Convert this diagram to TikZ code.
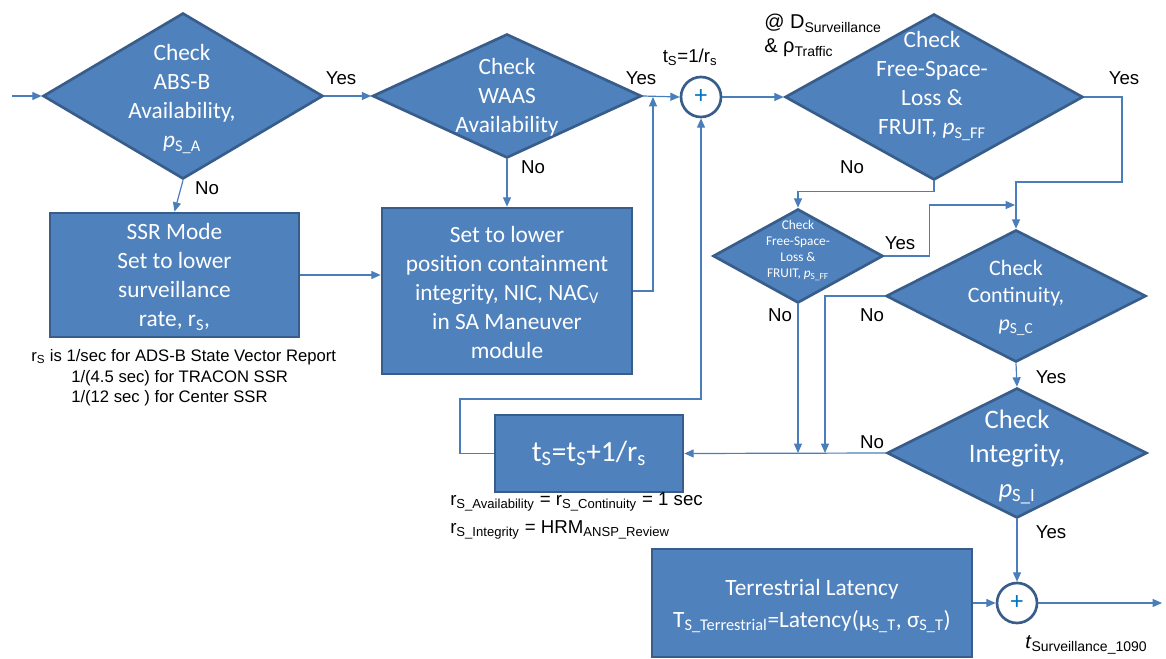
\documentclass[tikz,border=0pt]{standalone}
\usepackage{fontspec}
\setmainfont{Carlito}
\newfontfamily\arial{Liberation Sans}
\usetikzlibrary{shapes.geometric,arrows.meta}

\definecolor{boxfill}{HTML}{4F81BD}
\definecolor{boxline}{HTML}{385D8A}
\definecolor{wireblue}{HTML}{4A7EBB}
\definecolor{plusblue}{HTML}{0070C0}

\begin{document}
\begin{tikzpicture}[x=0.75pt,y=0.75pt,yscale=-1,xscale=1,
  dia/.style={diamond, draw=boxline, fill=boxfill, line width=2pt, inner sep=0pt},
  box/.style={rectangle, draw=boxline, fill=boxfill, line width=2pt, inner sep=0pt},
  wtext/.style={text=white, align=center, inner sep=0pt, font=\fontsize{17.5}{21.75}\selectfont},
  sumnode/.style={circle, draw=boxline, fill=white, line width=2pt, minimum size=30pt, inner sep=0pt, text=plusblue, font=\fontsize{19}{19}\selectfont},
  wire/.style={draw=wireblue, line width=0.9pt, -{Triangle[length=7pt,width=6pt]}},
  lbl/.style={inner sep=0pt, font=\arial\fontsize{14}{17}\selectfont}]
\useasboundingbox (0,0) rectangle (1166,659);

%Shape: Diamond [id:absb]
\node [dia, minimum width=210pt, minimum height=124.5pt] (absb) at (183,96) {};
\node [wtext] (absbtxt) at (182,99) {Check\\ABS-B\\Availability,\\\textit{p}\textsubscript{S\_A}};
%Shape: Diamond [id:waas]
\node [dia, minimum width=201.75pt, minimum height=93pt] (waas) at (507,96) {};
\node [wtext] (waastxt) at (507,97) {Check\\WAAS\\Availability};
%Shape: Diamond [id:fsl]
\node [dia, minimum width=223.5pt, minimum height=124.5pt] (fsl) at (934,97) {};
\node [wtext] (fsltxt) at (932,86) {Check\\Free-Space-\\Loss \&\\FRUIT, \textit{p}\textsubscript{S\_FF}};
%Shape: Diamond [id:fslsmall]
\node [dia, minimum width=127.5pt, minimum height=70.5pt] (fslsmall) at (798,256) {};
\node [wtext, font=\fontsize{10}{12}\selectfont] (fslsmalltxt) at (798,250) {Check\\Free-Space-\\Loss \&\\FRUIT, \textit{p}\textsubscript{S\_FF}};
%Shape: Diamond [id:cont]
\node [dia, minimum width=195pt, minimum height=99pt] (cont) at (1016,296) {};
\node [wtext, font=\fontsize{16.5}{20.5}\selectfont] (conttxt) at (1016,298) {Check\\Continuity,\\\textit{p}\textsubscript{S\_C}};
%Shape: Diamond [id:integ]
\node [dia, minimum width=195pt, minimum height=97.5pt] (integ) at (1017,453) {};
\node [wtext, font=\fontsize{20}{26}\selectfont] (integtxt) at (1017,457) {Check\\Integrity,\\\textit{p}\textsubscript{S\_I}};

%Shape: Rectangle [id:ssr]
\node [box, minimum width=186.75pt, minimum height=93pt] (ssr) at (174.5,275) {};
\node [wtext] (ssrtxt) at (174.5,277) {SSR Mode\\Set to lower\\surveillance\\rate, r\textsubscript{S},};
%Shape: Rectangle [id:nic]
\node [box, minimum width=187.5pt, minimum height=124.5pt] (nic) at (507,291) {};
\node [wtext] (nictxt) at (507,292) {Set to lower\\position containment\\integrity, NIC, NAC\textsubscript{V}\\in SA Maneuver\\module};
%Shape: Rectangle [id:tsbox]
\node [box, minimum width=141pt, minimum height=57.75pt] (tsbox) at (589,453.5) {};
\node [wtext, font=\fontsize{22}{26}\selectfont] (tsboxtxt) at (589,453) {t\textsubscript{S}=t\textsubscript{S}+1/r\textsubscript{s}};
%Shape: Rectangle [id:terr]
\node [box, minimum width=240pt, minimum height=81pt] (terr) at (812,603) {};
\node [wtext, font=\fontsize{17.5}{24}\selectfont] (terrtxt) at (812,606) {Terrestrial Latency\\T\textsubscript{S\_Terrestrial}=Latency(μ\textsubscript{S\_T}, σ\textsubscript{S\_T})};

%Shape: Circle [id:sumtop]
\node [sumnode] (sumtop) at (701,97) {+};
%Shape: Circle [id:sumout]
\node [sumnode] (sumout) at (1017,603) {+};

%Connectors
\coordinate (start) at (12,96);
\coordinate (nicup) at (653,97);
\coordinate (fslright) at (1122,182);
\coordinate (smalljoin) at (1015,205);
\coordinate (contdown) at (825,453);
\coordinate (loopcorner) at (460,399);
\coordinate (finish) at (1162,603);
\draw [wire] (start) -- (absb.west);
\draw [wire] (absb.east) -- (waas.west);
\draw [wire] (absb.south) -- (ssr.north);
\draw [wire] (waas.south) -- (nic.north);
\draw [wire] (ssr.east) -- (ssr.east -| nic.west);
\draw [wire] (waas.east) -- (sumtop.west);
\draw [wire] (nic.east) -| (nicup);
\draw [wire] (sumtop.east) -- (fsl.west);
\draw [wire] (fsl.east) -| (fslright) -| (cont.north);
\draw [wire] (fsl.south) -- ++(0,10) -| (fslsmall.north);
\draw [wire] (fslsmall.east) -- ++(45,0) |- (smalljoin);
\draw [wire] (fslsmall.south) -- (fslsmall.south |- integ.west);
\draw [wire] (cont.west) -| (contdown);
\draw [wire] (integ.west) -- (tsbox.east);
\draw [wire] (tsbox.west) -| (loopcorner) -| (sumtop.south);
\draw [wire] (cont.south) -- (integ.north);
\draw [wire] (integ.south) -- (sumout.north);
\draw [wire] (terr.east) -- (sumout.west);
\draw [wire] (sumout.east) -- (finish);

% Text Node
\node [lbl] (yes1) at (341,78) {Yes};
\node [lbl] (no1) at (207,188) {No};
\node [lbl] (yes2) at (641,78) {Yes};
\node [lbl] (no2) at (533,167) {No};
\node [lbl] (tsinit) at (690,57) {t\textsubscript{S}=1/r\textsubscript{s}};
\node [lbl, anchor=north west, align=left, font=\arial\fontsize{15}{18}\selectfont] (dsurv) at (764,14) {@ D\textsubscript{Surveillance}\\\& ρ\textsubscript{Traffic}};
\node [lbl] (yes3) at (1124,78) {Yes};
\node [lbl] (no3) at (852,167) {No};
\node [lbl] (yes4) at (900,243) {Yes};
\node [lbl] (no4) at (780,315) {No};
\node [lbl] (no5) at (872,315) {No};
\node [lbl] (yes5) at (1051,377) {Yes};
\node [lbl] (no6) at (872,442) {No};
\node [lbl] (yes6) at (1051,532) {Yes};
\node [lbl, anchor=west, font=\arial\fontsize{15}{17}\selectfont] (tsurv) at (1025,645) {\textit{t}\textsubscript{Surveillance\_1090}};
\node [lbl, anchor=north west, align=left, font=\arial\fontsize{12.5}{15.5}\selectfont] (ratenote) at (31,349) {r\textsubscript{S} is 1/sec for ADS-B State Vector Report\\\hspace*{30pt}1/(4.5 sec) for TRACON SSR\\\hspace*{30pt}1/(12 sec ) for Center SSR};
\node [lbl, anchor=west] (rateavail) at (450,502) {r\textsubscript{S\_Availability} = r\textsubscript{S\_Continuity} = 1 sec};
\node [lbl, anchor=west] (rateinteg) at (450,530) {r\textsubscript{S\_Integrity} = HRM\textsubscript{ANSP\_Review}};

\end{tikzpicture}
\end{document}
